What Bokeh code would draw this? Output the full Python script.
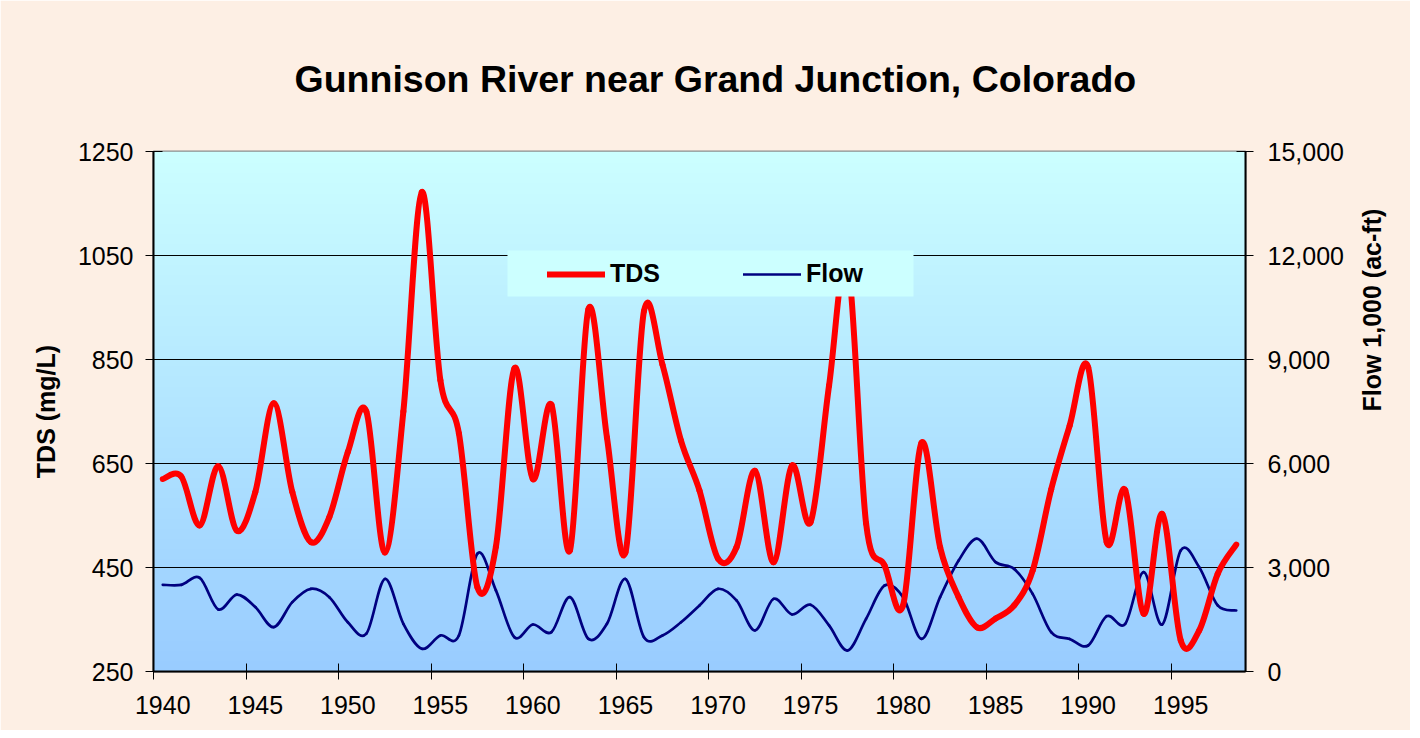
import math
import numpy as np
from bokeh.plotting import figure
from bokeh.models import (Range1d, LinearAxis, FixedTicker, NumeralTickFormatter, Legend,
                          LegendItem, BoxAnnotation, CustomJSTickFormatter, ColumnDataSource)
from bokeh.embed import file_html
from bokeh.resources import INLINE

# ---------------- data ----------------
years = list(range(1940, 1999))
tds = [620, 625, 531, 645, 521, 595, 766, 595, 499, 547,
       672, 750, 479, 750, 1172, 810, 708, 412, 490, 833,
       620, 763, 483, 947, 700, 479, 943, 840, 694, 598,
       467, 489, 636, 460, 646, 537, 800, 1040, 535, 454,
       377, 690, 489, 393, 335, 352, 377, 444, 600, 723,
       835, 499, 599, 361, 553, 310, 329, 438, 494]
flow = [2500, 2500, 2700, 1790, 2220, 1860, 1280, 2000, 2385, 2145,
        1420, 1090, 2670, 1375, 655, 1040, 1040, 3400, 2340, 990,
        1355, 1135, 2145, 940, 1375, 2670, 990, 1040, 1420, 1905,
        2385, 2050, 1185, 2095, 1645, 1925, 1330, 605, 1520, 2480,
        2145, 940, 2145, 3200, 3830, 3155, 2960, 2240, 1135, 940,
        750, 1595, 1375, 2865, 1355, 3490, 3010, 1905, 1760]
x_tick_years = [1940, 1945, 1950, 1955, 1960, 1965, 1970, 1975, 1980, 1985, 1990, 1995]
tds_ticks = [250, 450, 650, 850, 1050, 1250]
flow_ticks = [0, 3000, 6000, 9000, 12000, 15000]

X_START, X_END = 1940, 1999
TDS_START, TDS_END = 250, 1250
FLOW_START, FLOW_END = 0, 15000

TITLE = "Gunnison River near Grand Junction,  Colorado"
TDS_LABEL = "TDS (mg/L)"
FLOW_LABEL = "Flow 1,000 (ac-ft)"
FONT = "Liberation Sans"

# category centres (Excel category axis: values sit between tick marks)
xc = [y + 0.5 for y in years]


def smooth_segments(xs, ys):
    n = len(xs)
    d = {k: [] for k in ("x0", "y0", "x1", "y1", "cx0", "cy0", "cx1", "cy1")}
    for i in range(n - 1):
        a = i - 1 if i > 0 else i
        b = i + 2 if i + 2 < n else i + 1
        d["x0"].append(xs[i]); d["y0"].append(ys[i])
        d["x1"].append(xs[i + 1]); d["y1"].append(ys[i + 1])
        d["cx0"].append(xs[i] + (xs[i + 1] - xs[a]) / 6.0)
        d["cy0"].append(ys[i] + (ys[i + 1] - ys[a]) / 6.0)
        d["cx1"].append(xs[i + 1] - (xs[b] - xs[i]) / 6.0)
        d["cy1"].append(ys[i + 1] - (ys[b] - ys[i]) / 6.0)
    return ColumnDataSource(d)


p = figure(width=1410, height=730, output_backend="svg", toolbar_location=None,
           x_range=Range1d(X_START, X_END), y_range=Range1d(TDS_START, TDS_END),
           min_border_left=153, min_border_right=165, min_border_top=151, min_border_bottom=59,
           x_axis_location=None)
p.extra_y_ranges = {"flow": Range1d(FLOW_START, FLOW_END)}

p.border_fill_color = "#FDEFE4"
p.outline_line_color = "#8C8C8C"
p.outline_line_width = 2

# vertical gradient background of the plot area
N = 256
top = np.array([204, 255, 255]); bot = np.array([153, 204, 255])
img = np.zeros((N, 1), dtype=np.uint32)
view = img.view(dtype=np.uint8).reshape((N, 1, 4))
for r in range(N):
    t = r / (N - 1)
    c = bot + (top - bot) * t
    view[r, 0, 0] = int(c[0]); view[r, 0, 1] = int(c[1]); view[r, 0, 2] = int(c[2]); view[r, 0, 3] = 255
p.image_rgba(image=[img], x=X_START, y=TDS_START, dw=X_END - X_START, dh=TDS_END - TDS_START, level="image")

# grid
p.xgrid.visible = False
p.ygrid.ticker = FixedTicker(ticks=tds_ticks)
p.ygrid.grid_line_color = "black"
p.ygrid.grid_line_width = 1

# title
p.title.text = TITLE
p.title.align = "left"
p.title.offset = 141
p.title.standoff = 104
p.title.text_font = FONT
p.title.text_font_size = "37.5px"
p.title.text_font_style = "bold"
p.title.text_color = "black"

# left axis
ya = p.yaxis[0]
ya.ticker = FixedTicker(ticks=tds_ticks)
ya.axis_label = TDS_LABEL
ya.axis_label_text_font = FONT
ya.axis_label_text_font_size = "25px"
ya.axis_label_text_font_style = "bold"
ya.axis_label_text_color = "black"
ya.axis_label_standoff = 15
ya.major_label_text_font = FONT
ya.major_label_text_font_size = "25px"
ya.major_label_text_color = "black"
ya.major_label_standoff = 12
ya.major_tick_in = 9
ya.major_tick_out = 8
ya.major_tick_line_color = "black"
ya.minor_tick_line_color = None
ya.axis_line_color = "black"
ya.axis_line_width = 2

# bottom axis: labels centred on the categories, tick marks (minor) at category boundaries
xa = LinearAxis(ticker=FixedTicker(ticks=[y + 0.5 for y in x_tick_years], minor_ticks=x_tick_years),
                formatter=CustomJSTickFormatter(code="return String(Math.round(tick - 0.5));"))
xa.axis_line_color = "black"
xa.axis_line_width = 2
xa.major_tick_line_color = None
xa.major_tick_in = 0
xa.major_tick_out = 0
xa.minor_tick_line_color = "black"
xa.minor_tick_line_width = 1
xa.minor_tick_in = 8
xa.minor_tick_out = 8
xa.major_label_text_font = FONT
xa.major_label_text_font_size = "25px"
xa.major_label_text_color = "black"
xa.major_label_standoff = 16
p.add_layout(xa, "below")

# right axis
yr = LinearAxis(y_range_name="flow", ticker=FixedTicker(ticks=flow_ticks),
                formatter=NumeralTickFormatter(format="0,0"))
yr.axis_label = FLOW_LABEL
yr.axis_label_text_font = FONT
yr.axis_label_text_font_size = "25px"
yr.axis_label_text_font_style = "bold"
yr.axis_label_text_color = "black"
yr.axis_label_standoff = 25
try:
    yr.axis_label_orientation = math.pi / 2
except Exception:
    pass
yr.major_label_text_font = FONT
yr.major_label_text_font_size = "25px"
yr.major_label_text_color = "black"
yr.major_label_standoff = 14
yr.major_tick_in = 9
yr.major_tick_out = 8
yr.major_tick_line_color = "black"
yr.minor_tick_line_color = None
yr.axis_line_color = "black"
yr.axis_line_width = 2
p.add_layout(yr, "right")

# series
src_flow = smooth_segments(xc, flow)
src_tds = smooth_segments(xc, tds)
r_flow = p.bezier(x0="x0", y0="y0", x1="x1", y1="y1", cx0="cx0", cy0="cy0", cx1="cx1", cy1="cy1",
                  source=src_flow, y_range_name="flow", line_color="#000080", line_width=2.7,
                  line_cap="round", line_join="round")
r_tds = p.bezier(x0="x0", y0="y0", x1="x1", y1="y1", cx0="cx0", cy0="cy0", cx1="cx1", cy1="cy1",
                 source=src_tds, line_color="#FF0000", line_width=6,
                 line_cap="round", line_join="round")

# legend background and legend (screen units are measured from the frame's bottom-left)
box = BoxAnnotation(left=354, right=760, top=421, bottom=375,
                    left_units="screen", right_units="screen", top_units="screen", bottom_units="screen",
                    fill_color="#CCFFFF", fill_alpha=1.0, line_color=None)
p.add_layout(box)

legend = Legend(items=[LegendItem(label="TDS", renderers=[r_tds]),
                       LegendItem(label="Flow", renderers=[r_flow])],
                orientation="horizontal", location=(394, 383),
                padding=10, spacing=83, label_standoff=5, glyph_width=58, glyph_height=26,
                label_height=26, margin=0,
                background_fill_alpha=0.0, border_line_color=None,
                label_text_font=FONT, label_text_font_size="25px", label_text_font_style="bold",
                label_text_color="black")
p.add_layout(legend)

open("out.html", "w").write(file_html(p, INLINE))
